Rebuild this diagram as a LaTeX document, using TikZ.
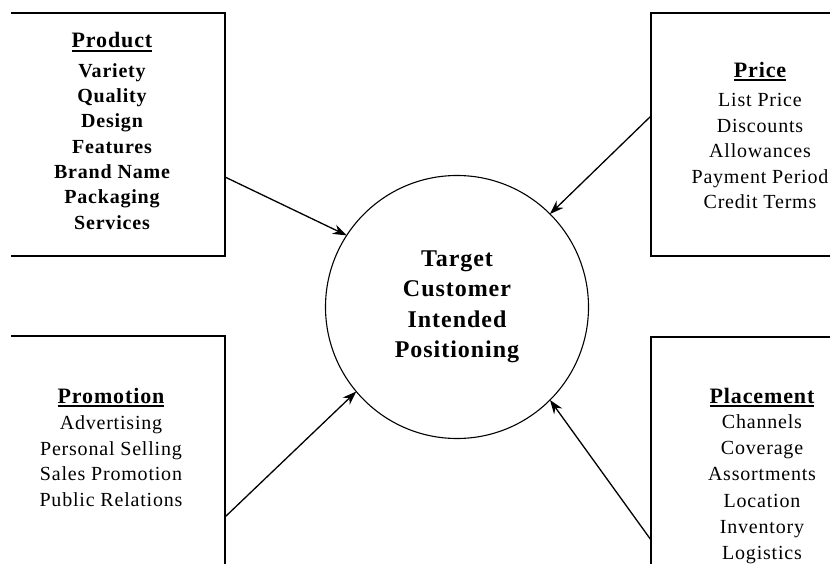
\documentclass[tikz,border=0pt]{standalone}
\usepackage{fontspec}
\setmainfont{Liberation Serif}[LetterSpace=4.0]
\usepackage{tikz}
\usetikzlibrary{arrows.meta}
\usetikzlibrary{positioning}

\tikzset{
    mixbox/.style={draw, line width=1.4pt, rectangle, inner sep=0pt, outer sep=0pt},
    mixtext/.style={align=center, inner sep=0pt, font=\fontsize{20}{25.5}\selectfont},
    mixarrow/.style={line width=1.3pt, -{Stealth[length=14pt, width=10pt]}}
}
\newcommand{\mixhead}[1]{{\fontsize{22}{25}\selectfont\bfseries
    \setbox0=\hbox{#1}\vtop{\hbox{#1}\kern1.5pt\hrule height 1.8pt width \wd0}}}

\begin{document}
\begin{tikzpicture}[x=1pt, y=1pt]
    \useasboundingbox (0,0) rectangle (830,563);
    \clip (11,0) rectangle (830,563);

    % the circle
    \node[draw, circle, line width=1.1pt, minimum size=263pt, inner sep=0pt, outer sep=0pt,
          align=center, font=\fontsize{24}{30.5}\selectfont\bfseries] (target) at (457,256)
        {Target\\Customer\\Intended\\Positioning};

    % the four boxes
    \node[mixbox, minimum width=228pt, minimum height=243pt] (product) at (111,428.5) {};
    \node[mixbox, minimum width=218pt, minimum height=243pt] (price) at (760,428.5) {};
    \node[mixbox, minimum width=228pt, minimum height=247pt] (promotion) at (111,103.5) {};
    \node[mixbox, minimum width=218pt, minimum height=246pt] (placement) at (760,103) {};

    % texts of the boxes
    \node[mixtext, font=\fontsize{20}{25.3}\selectfont\bfseries] (producttext) at ([xshift=1pt, yshift=3.5pt]product.center)
        {\mixhead{Product}\\[4pt]Variety\\Quality\\Design\\Features\\Brand Name\\Packaging\\Services};
    \node[mixtext] (pricetext) at ([yshift=-1pt]price.center)
        {\mixhead{Price}\\[4pt]List Price\\Discounts\\Allowances\\Payment Period\\Credit Terms};
    \node[mixtext] (promotiontext) at ([yshift=12.5pt]promotion.center)
        {\mixhead{Promotion}\\[1pt]Advertising\\Personal Selling\\Sales Promotion\\Public Relations};
    \node[mixtext, font=\fontsize{20}{26.3}\selectfont] (placementtext) at ([xshift=2pt, yshift=-16pt]placement.center)
        {\mixhead{Placement}\\[-1pt]Channels\\Coverage\\Assortments\\Location\\Inventory\\Logistics};

    % the arrows into the circle
    \draw[mixarrow] ([yshift=-42.5pt]product.east) -- (target.147);
    \draw[mixarrow] ([yshift=18.5pt]price.west) -- (target.45);
    \draw[mixarrow] ([yshift=-57.5pt]promotion.east) -- (target.220);
    \draw[mixarrow] ([yshift=-80pt]placement.west) -- (target.315);
\end{tikzpicture}
\end{document}
